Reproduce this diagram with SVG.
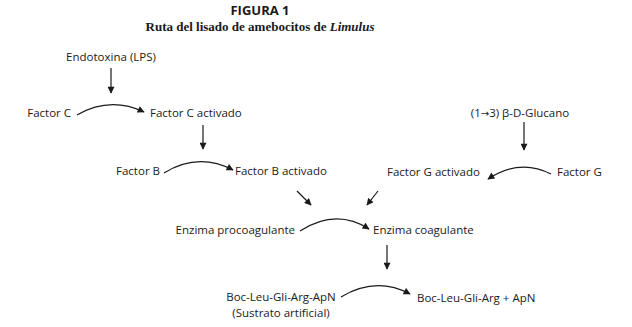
<svg xmlns="http://www.w3.org/2000/svg" width="632" height="327" viewBox="0 0 632 327">
<style>
.t{font-family:"Open Sans","Liberation Sans",Arial,sans-serif;font-size:11.5px;fill:#1a1a1a}
.ln{stroke:#1a1a1a;stroke-width:1.2;fill:none}
</style>
<defs>
<marker id="ah" viewBox="0 0 10 10" refX="9" refY="5" markerWidth="8" markerHeight="7" orient="auto" markerUnits="userSpaceOnUse">
<path d="M0,0 L10,5 L0,10 Z" fill="#1a1a1a"/>
</marker>
</defs>
<rect width="632" height="327" fill="#fff"/>
<g id="title">
<text x="260" y="15" text-anchor="middle" style="font-family:'Open Sans','Liberation Sans',sans-serif;font-weight:bold;font-size:13px" fill="#1a1a1a">FIGURA 1</text>
<text x="260" y="31" text-anchor="middle" style="font-family:'Liberation Serif','Times New Roman',serif;font-weight:bold;font-size:13px" fill="#1a1a1a">Ruta del lisado de amebocitos de <tspan font-style="italic">Limulus</tspan></text>
</g>
<g id="n-lps"><text class="t" x="111" y="61" text-anchor="middle">Endotoxina (LPS)</text></g>
<g id="n-fc"><text class="t" x="71" y="117" text-anchor="end">Factor C</text></g>
<g id="n-fca"><text class="t" x="150" y="117">Factor C activado</text></g>
<g id="n-fb"><text class="t" x="160" y="175" text-anchor="end">Factor B</text></g>
<g id="n-fba"><text class="t" x="235" y="175">Factor B activado</text></g>
<g id="n-glu"><text class="t" x="520" y="117" text-anchor="middle">(1<tspan style="font-family:'DejaVu Sans',sans-serif;font-size:10px">→</tspan>3) β-D-Glucano</text></g>
<g id="n-fga"><text class="t" x="387" y="176">Factor G activado</text></g>
<g id="n-fg"><text class="t" x="557" y="176">Factor G</text></g>
<g id="n-ep"><text class="t" x="295" y="234" text-anchor="end">Enzima procoagulante</text></g>
<g id="n-ec"><text class="t" x="373" y="234">Enzima coagulante</text></g>
<g id="n-boc"><text class="t" x="281" y="301" text-anchor="middle">Boc-Leu-Gli-Arg-ApN</text><text class="t" x="281" y="317" text-anchor="middle">(Sustrato artificial)</text></g>
<g id="n-bocp"><text class="t" x="417" y="302">Boc-Leu-Gli-Arg + ApN</text></g>
<g id="connectors">
<line class="ln" x1="111" y1="68" x2="111" y2="93" marker-end="url(#ah)"/>
<path class="ln" d="M77,115 Q110,96 144,112" marker-end="url(#ah)"/>
<line class="ln" x1="203" y1="125" x2="203" y2="149" marker-end="url(#ah)"/>
<path class="ln" d="M164,173 Q198,152 233,170" marker-end="url(#ah)"/>
<line class="ln" x1="524" y1="122" x2="524" y2="150" marker-end="url(#ah)"/>
<path class="ln" d="M551,174 Q520,158 488,179" marker-end="url(#ah)"/>
<line class="ln" x1="297" y1="191" x2="311" y2="205" marker-end="url(#ah)"/>
<line class="ln" x1="378" y1="191" x2="367" y2="205" marker-end="url(#ah)"/>
<path class="ln" d="M300,231 Q336,208 369,229" marker-end="url(#ah)"/>
<line class="ln" x1="387" y1="245" x2="387" y2="269" marker-end="url(#ah)"/>
<path class="ln" d="M341,297 Q376,276 410,294" marker-end="url(#ah)"/>
</g>
</svg>
